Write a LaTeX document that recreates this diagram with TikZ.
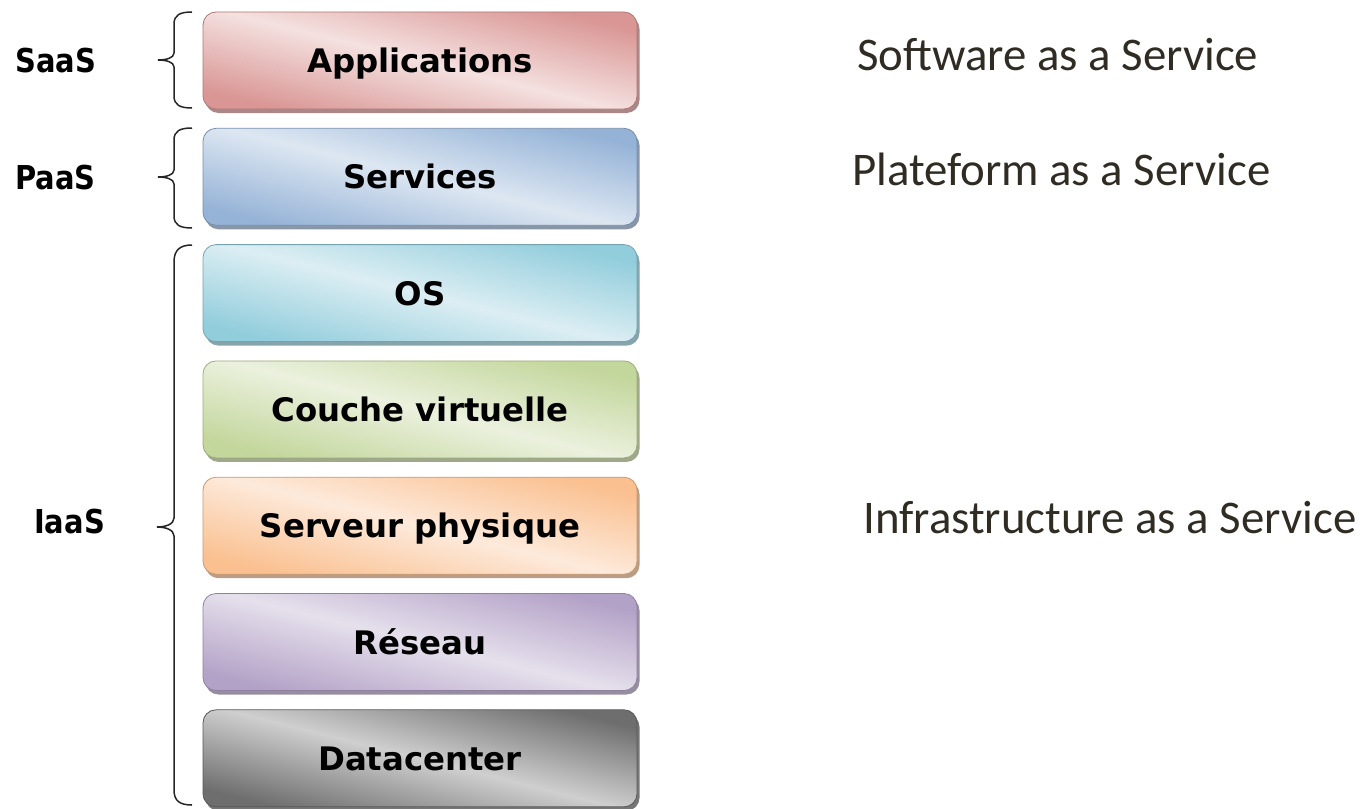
\documentclass[tikz,border=0pt]{standalone}
\usepackage{fontspec}
\usetikzlibrary{shadows}
\newfontfamily\boxfont{DejaVu Sans}
\newfontfamily\lblfont{DejaVu Sans}[FakeStretch=0.88]
\newfontfamily\calfont{Carlito}
\definecolor{appD}{HTML}{D99694}\definecolor{appL}{HTML}{F4E1E0}
\definecolor{serD}{HTML}{95B3D7}\definecolor{serL}{HTML}{DDE7F2}
\definecolor{osD}{HTML}{92CDDC}\definecolor{osL}{HTML}{DCEEF3}
\definecolor{cvD}{HTML}{C3D69B}\definecolor{cvL}{HTML}{EBF1DE}
\definecolor{spD}{HTML}{FAC090}\definecolor{spL}{HTML}{FDEADB}
\definecolor{reD}{HTML}{B3A2C7}\definecolor{reL}{HTML}{E6E0EC}
\definecolor{dcD}{HTML}{6E6E6E}\definecolor{dcL}{HTML}{CFCFCF}
\definecolor{rtext}{RGB}{48,44,36}
\tikzset{
  layer/.style 2 args={draw=#1!80!black, line width=0.8bp, rounded corners=13bp,
    minimum width=434bp, minimum height=97bp, inner sep=0pt,
    text height=24bp, text depth=0bp,
    top color=#1, bottom color=#1, middle color=#2, shading angle=-14,
    font=\boxfont\bfseries\fontsize{32.5}{36}\selectfont, text=black,
    drop shadow={fill=#1!65!black, shadow xshift=2.5bp, shadow yshift=-4bp, opacity=0.75}},
  lbl/.style={anchor=base west, inner sep=0pt, font=\lblfont\bfseries\fontsize{33}{36}\selectfont, text=black},
  rtxt/.style={anchor=base west, inner sep=0pt, font=\calfont\fontsize{47}{50}\selectfont, text=rtext},
  brc/.style={draw=black!85, line width=1.5bp},
}
\begin{document}
\begin{tikzpicture}[x=1bp,y=-1bp]
\useasboundingbox[fill=white] (0,0) rectangle (1370,808);
\node[layer={appD}{appL}] (app) at (420,60.5) {Applications};
\node[layer={serD}{serL}] (ser) at (420,176.8) {Services};
\node[layer={osD}{osL}] (os) at (420,293.1) {OS};
\node[layer={cvD}{cvL}] (cv) at (420,409.4) {Couche virtuelle};
\node[layer={spD}{spL}] (sp) at (420,525.7) {Serveur physique};
\node[layer={reD}{reL}] (re) at (420,642) {Réseau};
\node[layer={dcD}{dcL}] (dc) at (420,758.3) {Datacenter};
% braces
\draw[brc] (192,12) .. controls (180,12) and (174,15) .. (174,24) -- (174,53)
  .. controls (174,58) and (166,60) .. (158,60)
  .. controls (166,60) and (174,62) .. (174,67) -- (174,96)
  .. controls (174,105) and (180,108) .. (192,108);
\draw[brc] (192,128) .. controls (180,128) and (174,131) .. (174,140) -- (174,170)
  .. controls (174,175) and (166,177) .. (158,177)
  .. controls (166,177) and (174,179) .. (174,184) -- (174,216)
  .. controls (174,225) and (180,228) .. (192,228);
\draw[brc] (192,245) .. controls (180,245) and (174,250) .. (174,262) -- (174,518)
  .. controls (174,524) and (166,527) .. (157,527)
  .. controls (166,527) and (174,530) .. (174,536) -- (174,790)
  .. controls (174,801) and (180,805) .. (192,805);
% labels
\node[lbl] (saas) at (15,72) {SaaS};
\node[lbl] (paas) at (15,189) {PaaS};
\node[lbl] (iaas) at (34,533) {IaaS};
\node[rtxt] (tsaas) at (857,70) {Software as a Service};
\node[rtxt] (tpaas) at (852,185) {Plateform as a Service};
\node[rtxt] (tiaas) at (863,533) {Infrastructure as a Service};
\end{tikzpicture}
\end{document}
